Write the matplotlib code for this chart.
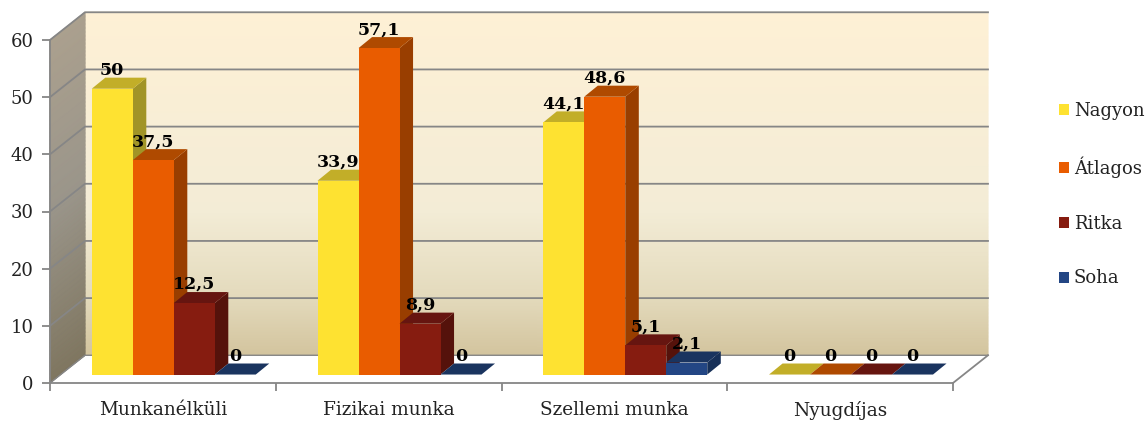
import numpy as np
import matplotlib
matplotlib.use("Agg")
import matplotlib.pyplot as plt
from matplotlib.colors import LinearSegmentedColormap
from matplotlib.patches import Patch

categories = ["Munkanélküli", "Fizikai munka", "Szellemi munka", "Nyugdíjas"]
series = ["Nagyon", "Átlagos", "Ritka", "Soha"]
nagyon = [50, 33.9, 44.1, 0]
atlagos = [37.5, 57.1, 48.6, 0]
ritka = [12.5, 8.9, 5.1, 0]
soha = [0, 0, 2.1, 0]
labels_n = ["50", "33,9", "44,1", "0"]
labels_a = ["37,5", "57,1", "48,6", "0"]
labels_r = ["12,5", "8,9", "5,1", "0"]
labels_s = ["0", "0", "2,1", "0"]

front = ["#FEE231", "#E95C00", "#861C10", "#234684"]
top = ["#C2AE28", "#AF4A00", "#661510", "#1A345F"]
side = ["#A19427", "#993E00", "#55120B", "#173058"]

FONT = "DejaVu Serif"
GREY = "#868686"

# depth of the fake 3d box, in data units
DX, DY = 0.155, 4.85
BAR_W = 0.1816
BAR_DX, BAR_DY = 0.06, 1.93
BAR_BASE = 1.48
GROUP_START = 0.185

fig = plt.figure(figsize=(11.46, 4.21), dpi=100)
ax = fig.add_axes([50 / 1146, 38 / 421, 903 / 1146, 343 / 421])
ax.patch.set_visible(False)

grad = np.linspace(0, 1, 256)
grad2 = np.column_stack([grad, grad])

# back wall
wall_cmap = LinearSegmentedColormap.from_list(
    "wall", [(0, "#D3C49E"), (0.17, "#E3DABC"), (0.42, "#F3ECD6"), (1, "#FEF0D5")])
wall_y = DY + grad * 60
ax.pcolormesh(np.column_stack([np.full(256, DX), np.full(256, 4 + DX)]),
              np.column_stack([wall_y, wall_y]), grad2,
              cmap=wall_cmap, shading="gouraud", zorder=1, clip_on=False)

# left wall, skewed mesh
side_cmap = LinearSegmentedColormap.from_list(
    "side", [(0, "#7F7660"), (0.5, "#9A958A"), (1, "#ABA08E")])
ax.pcolormesh(np.column_stack([np.zeros(256), np.full(256, DX)]),
              np.column_stack([grad * 60, grad * 60 + DY]), grad2,
              cmap=side_cmap, shading="gouraud", zorder=1, clip_on=False)

ax.set_xlim(0, 4)
ax.set_ylim(0, 60)

# grid on both walls
for v in range(0, 70, 10):
    ax.plot([0, DX, 4 + DX], [v, v + DY, v + DY], color=GREY, lw=1.3 if v else 1.0,
            zorder=2, clip_on=False, solid_joinstyle="miter")
# floor edge on the right
ax.plot([4, 4 + DX], [0, DY], color=GREY, lw=1.3, zorder=2, clip_on=False)

# bars, left to right so each one covers the side of the previous
values = [nagyon, atlagos, ritka, soha]
texts = [labels_n, labels_a, labels_r, labels_s]
for c in range(len(categories)):
    for s in range(len(series)):
        x0 = c + GROUP_START + s * BAR_W
        x1 = x0 + BAR_W
        y0 = BAR_BASE
        y1 = y0 + values[s][c]
        z = 3 + c + s * 0.1
        ax.fill([x1, x1 + BAR_DX, x1 + BAR_DX, x1],
                [y0, y0 + BAR_DY, y1 + BAR_DY, y1],
                color=side[s], lw=0, zorder=z, clip_on=False)
        ax.fill([x0, x1, x1 + BAR_DX, x0 + BAR_DX],
                [y1, y1, y1 + BAR_DY, y1 + BAR_DY],
                color=top[s], lw=0, zorder=z, clip_on=False)
        ax.bar(x0, values[s][c], BAR_W, bottom=y0, align="edge",
               color=front[s], lw=0, zorder=z, clip_on=False)
        ax.text(x0 + BAR_W / 2, y1 + 2.45, texts[s][c], ha="center", va="baseline",
                family=FONT, fontsize=12.5, fontweight="bold", color="black", zorder=20)

# axes
for name in ["top", "right"]:
    ax.spines[name].set_visible(False)
for name in ["left", "bottom"]:
    ax.spines[name].set_color(GREY)
    ax.spines[name].set_linewidth(1.3)
    ax.spines[name].set_zorder(10)
ax.set_yticks(range(0, 70, 10))
ax.set_xticks(range(5))
ax.set_xticklabels([])
ax.set_xticks([0.5, 1.5, 2.5, 3.5], categories, minor=True)
ax.tick_params(axis="both", which="major", color=GREY, width=1.3, length=6)
ax.tick_params(axis="x", which="minor", length=0, pad=13)
ax.tick_params(axis="y", pad=6)
for t in ax.get_yticklabels():
    t.set_family(FONT)
    t.set_fontsize(13)
    t.set_color("#222222")
for t in ax.get_xticklabels(minor=True):
    t.set_family(FONT)
    t.set_fontsize(13.3)
    t.set_color("#222222")

handles = [Patch(facecolor=front[i], label=series[i]) for i in range(4)]
ax.legend(handles=handles, loc="center left", bbox_to_anchor=(1.117, 0.549), frameon=False,
          prop={"family": FONT, "size": 13}, handlelength=0.56, handleheight=0.56,
          handletextpad=0.28, labelspacing=2.03, borderpad=0, borderaxespad=0,
          labelcolor="#222222")

fig.savefig("out.png", dpi=100)
